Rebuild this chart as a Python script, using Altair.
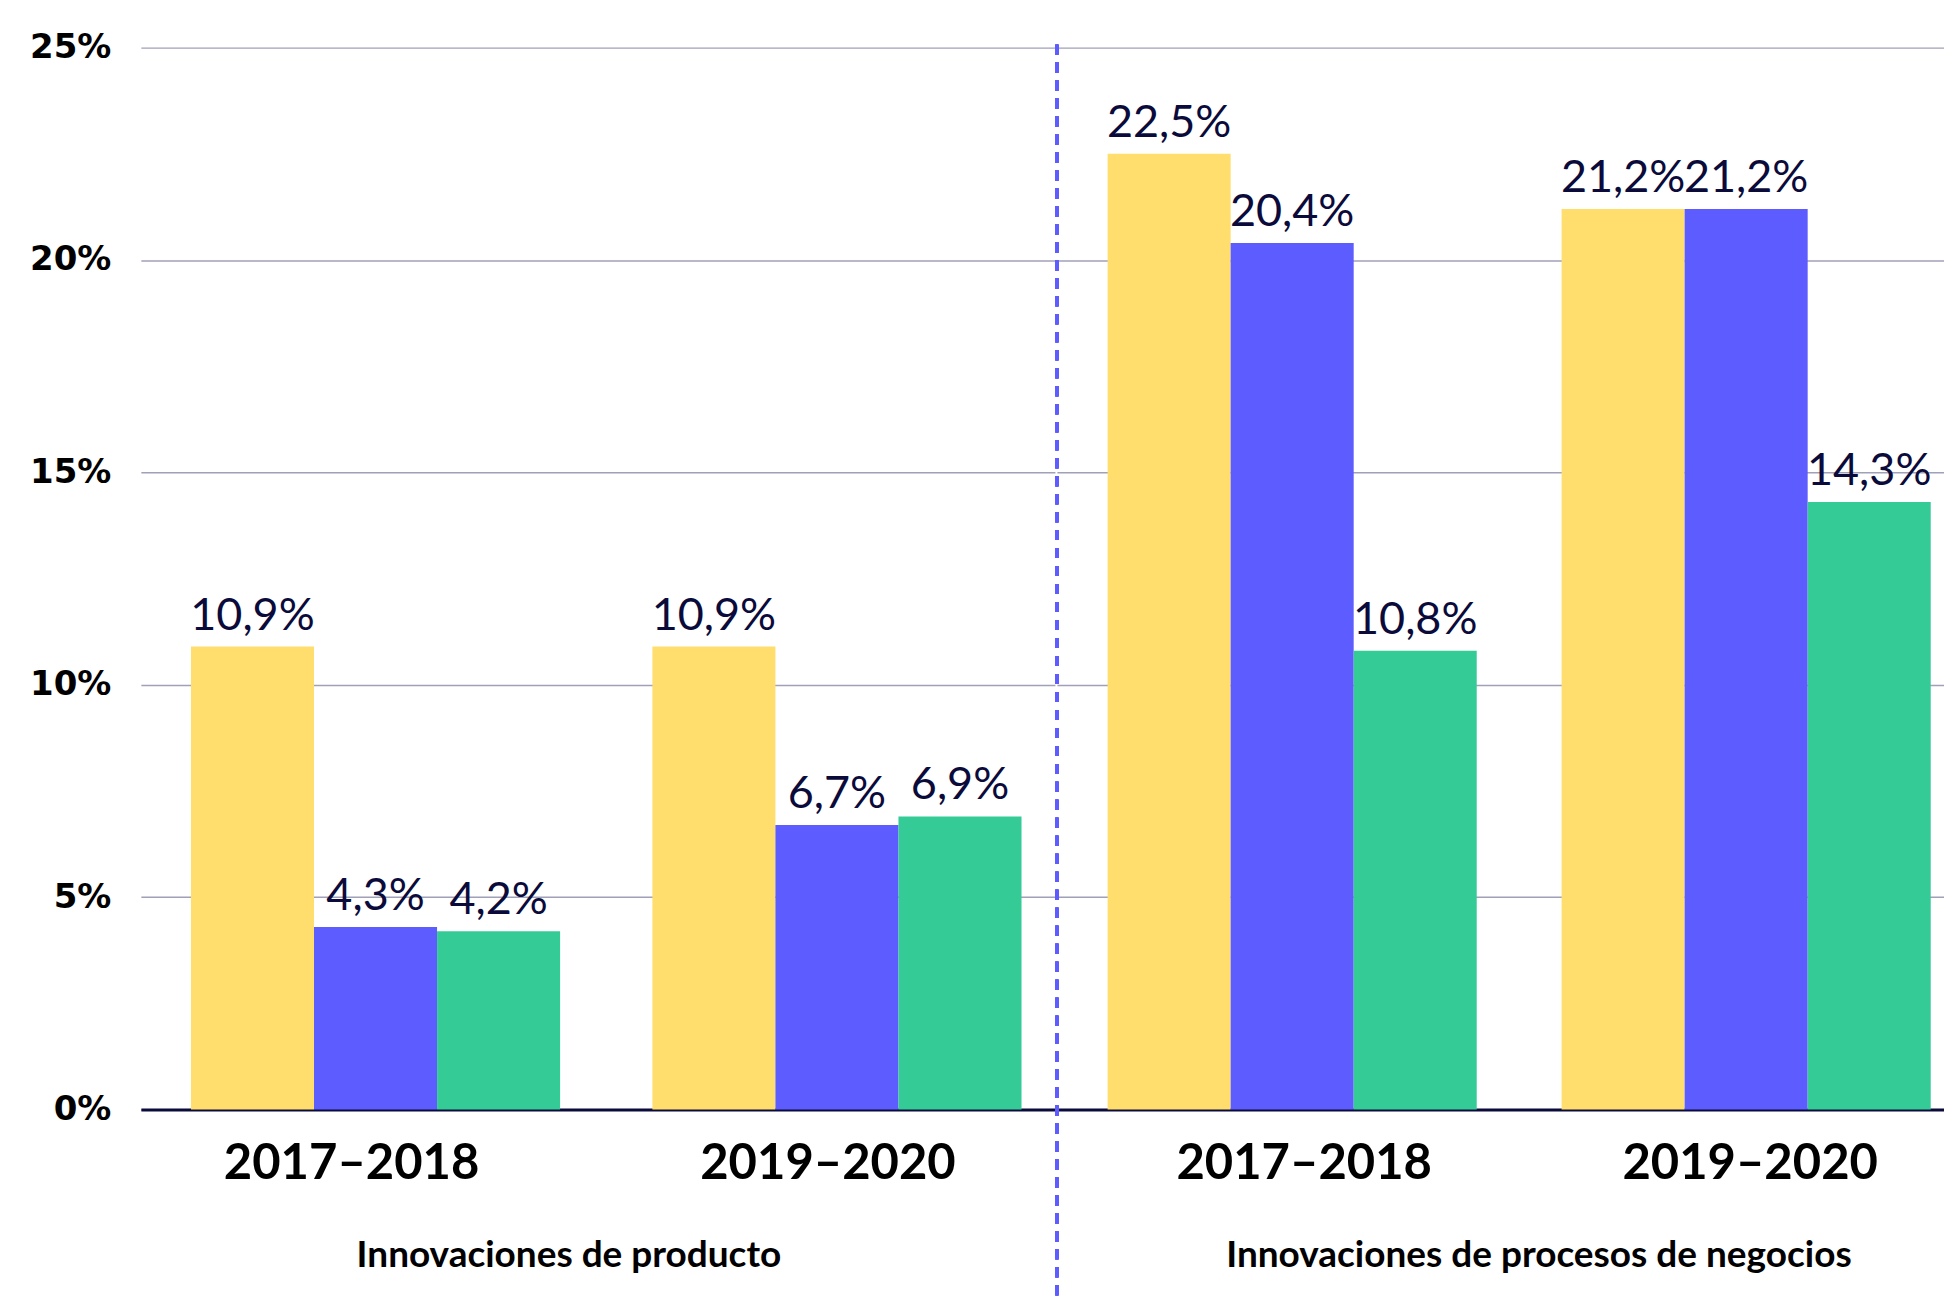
import altair as alt
import pandas as pd

panels = ["Innovaciones de producto", "Innovaciones de procesos de negocios"]
periodos = ["2017–2018", "2019–2020"]
series = ["Serie 1", "Serie 2", "Serie 3"]
colores = ["#FFDE6E", "#5C5CFF", "#35CB97"]

producto_1718 = [10.9, 4.3, 4.2]
producto_1920 = [10.9, 6.7, 6.9]
procesos_1718 = [22.5, 20.4, 10.8]
procesos_1920 = [21.2, 21.2, 14.3]

valores = {
    (panels[0], periodos[0]): producto_1718,
    (panels[0], periodos[1]): producto_1920,
    (panels[1], periodos[0]): procesos_1718,
    (panels[1], periodos[1]): procesos_1920,
}

rows = []
for (p, per), vals in valores.items():
    for s, v in zip(series, vals):
        rows.append({"panel": p, "periodo": per, "serie": s, "valor": v,
                     "etiqueta": f"{v:.1f}".replace(".", ",") + "%"})
df = pd.DataFrame(rows)

H = 1063
NAVY = "#0B0B3B"
GRID = "#A0A0B8"


def panel(name, first, width, title_x, x_scale, off_a, off_b):
    base = alt.Chart(df).transform_filter(alt.datum.panel == name)
    label_offset = {"condition": {"test": f"datum.value == '{periodos[0]}'", "value": off_a},
                    "value": off_b}
    x = alt.X("periodo:N", sort=periodos, scale=x_scale,
              axis=alt.Axis(title=name, labelAngle=0, ticks=False, labelLimit=0,
                            labelFont="Lato", labelFontWeight="bold", labelFontSize=49,
                            labelColor="#000000", labelPadding=30,
                            labelOffset=label_offset,
                            domainColor=NAVY, domainWidth=3,
                            titleFont="Lato", titleFontWeight="bold", titleFontSize=37,
                            titleColor="#000000", titlePadding=49,
                            titleX=title_x, titleAlign="center"))
    if first:
        yaxis = alt.Axis(title=None, values=[0, 5, 10, 15, 20, 25],
                         labelExpr="datum.value + '%'", ticks=False, domain=False,
                         labelFont="DejaVu Sans", labelFontWeight="bold", labelFontSize=34,
                         labelColor="#000000", labelPadding=30,
                         gridColor=GRID, gridWidth=1.5)
    else:
        yaxis = alt.Axis(title=None, values=[0, 5, 10, 15, 20, 25], labels=False,
                         ticks=False, domain=False, gridColor=GRID, gridWidth=1.5)
    y = alt.Y("valor:Q", scale=alt.Scale(domain=[0, 25], nice=False), axis=yaxis)
    xo = alt.XOffset("serie:N", sort=series,
                     scale=alt.Scale(paddingInner=0, paddingOuter=0))
    bars = base.mark_bar().encode(
        x=x, y=y, xOffset=xo,
        color=alt.Color("serie:N", sort=series,
                        scale=alt.Scale(domain=series, range=colores), legend=None),
    )
    text = base.mark_text(font="Lato", fontSize=45, color=NAVY, baseline="bottom",
                          dy=-8).encode(
        x=alt.X("periodo:N", sort=periodos), y="valor:Q", xOffset=xo,
        text="etiqueta:N")
    layers = [bars, text]
    if not first:
        rule = alt.Chart(df).mark_rule(color="#5C5CFF", strokeWidth=3,
                                       strokeDash=[10, 8]).encode(
            x=alt.value(0), y=alt.value(-3), y2=alt.value(H + 187))
        layers.append(rule)
    return alt.layer(*layers).properties(width=width, height=H)


left = panel(panels[0], True, 915, 428,
             alt.Scale(paddingInner=0.2, paddingOuter=0.0905, align=0.6), -24, -9)
right = panel(panels[1], False, 888, 482,
              alt.Scale(paddingInner=0.2, paddingOuter=0.077, align=0.725), 15, 7)

chart = alt.hconcat(left, right, spacing=0).properties(
    padding={"top": 22, "left": 21, "right": 0, "bottom": 0}
).configure_view(stroke=None)

chart.save("out.html", embed_options={"renderer": "svg", "actions": False})
